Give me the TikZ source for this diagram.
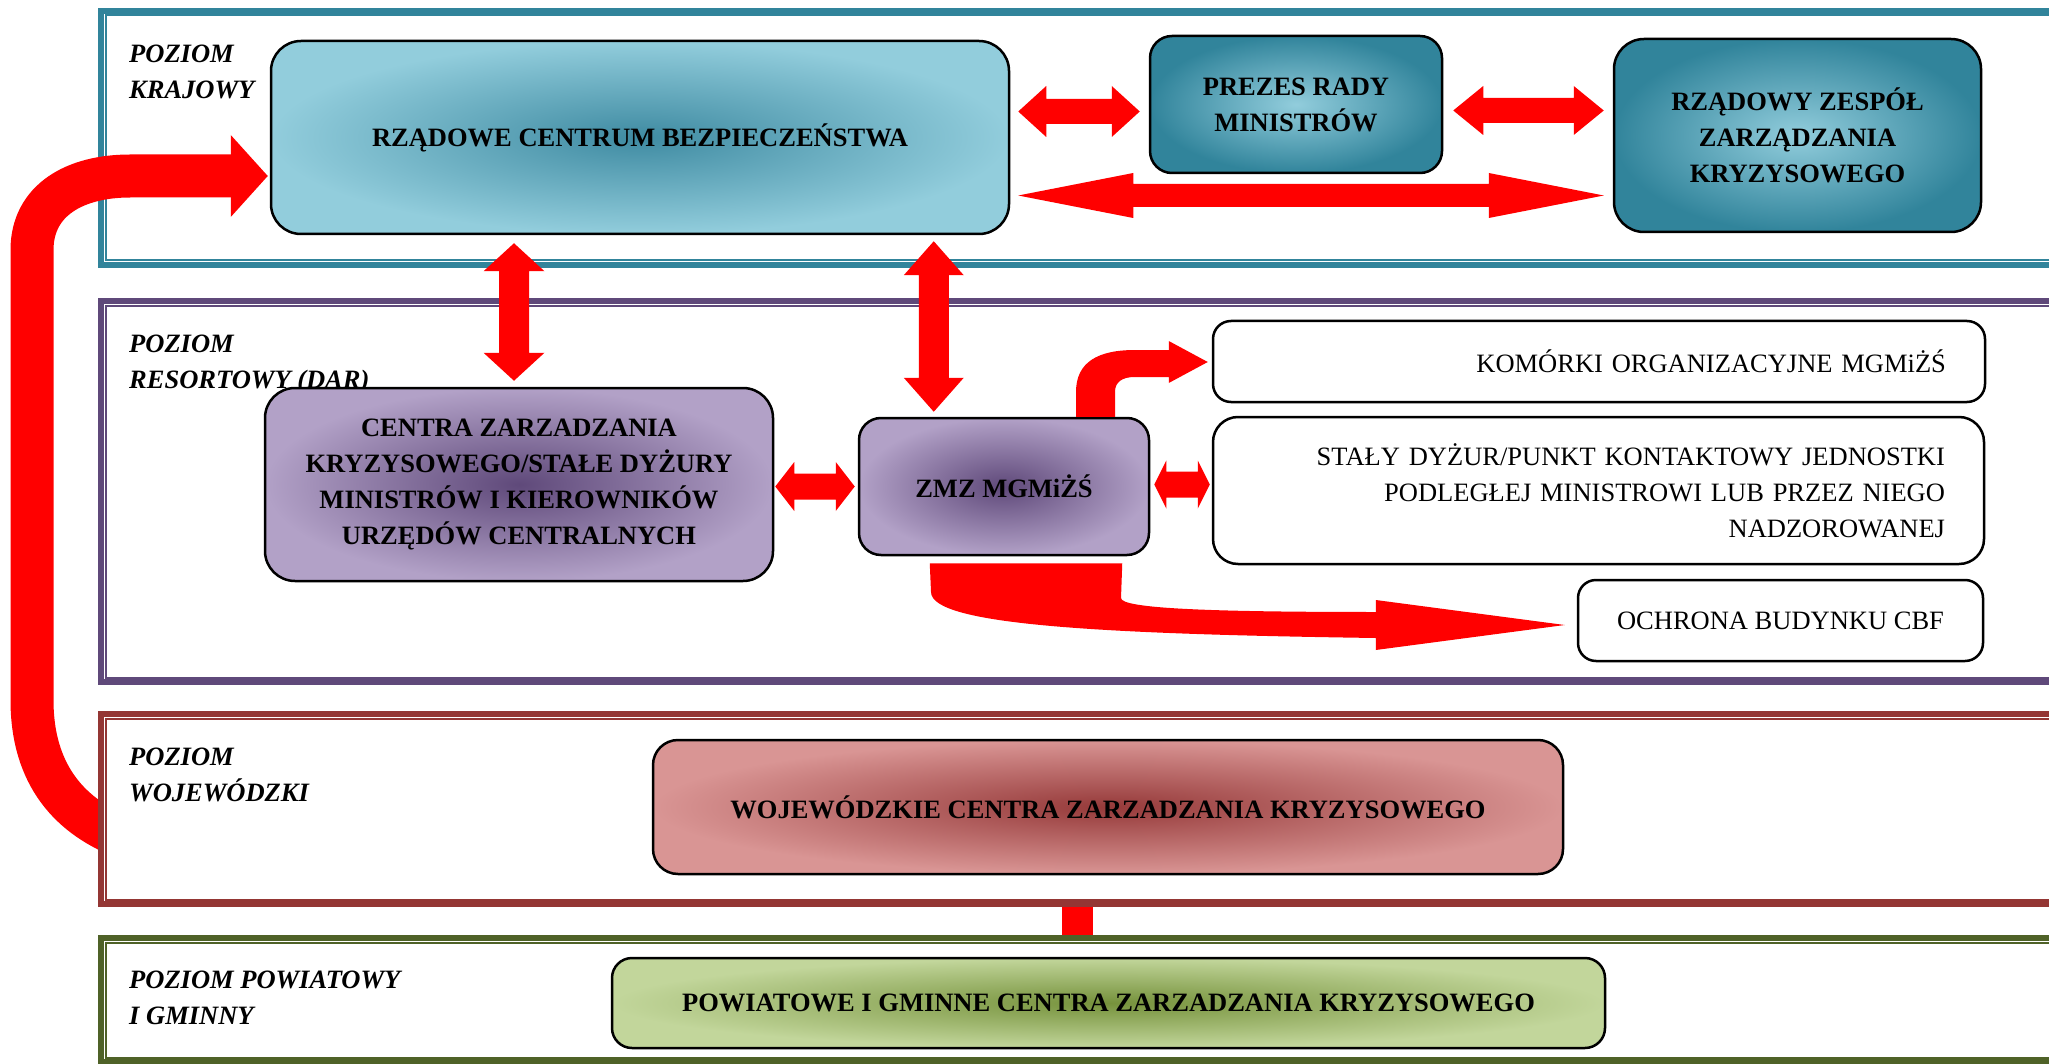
\documentclass[tikz,border=0pt]{standalone}
\usepackage{fontspec}
\setmainfont{Liberation Serif}
\usetikzlibrary{calc,positioning}
\pgfdeclarelayer{front}
\pgfsetlayers{main,front}

\definecolor{frkraj}{HTML}{31849B}
\definecolor{frres}{HTML}{5F497A}
\definecolor{frwoj}{HTML}{943634}
\definecolor{frpow}{HTML}{4F6228}
\definecolor{tealdark}{HTML}{31849B}
\definecolor{tealmid}{HTML}{3F8BA2}
\definecolor{teallight}{HTML}{92CDDC}
\definecolor{purpdark}{HTML}{5F497A}
\definecolor{purplight}{HTML}{B2A1C7}
\definecolor{reddark}{HTML}{963A3A}
\definecolor{redlight}{HTML}{D99594}
\definecolor{grndark}{HTML}{76923C}
\definecolor{grnlight}{HTML}{C2D69B}
\definecolor{arrowred}{RGB}{255,0,0}

\newcommand{\diagfont}{\fontsize{26.5}{36}\selectfont}
% double arrow between two named points: shaft, head half widths, head length
\newcommand{\dblarrow}[5]{%
  \path ($(#1)!#5pt!(#2)$) coordinate (ha) ($(#2)!#5pt!(#1)$) coordinate (hb);
  \fill[arrowred] (#1) -- ($(ha)!#4pt!90:(#2)$) -- ($(ha)!#3pt!90:(#2)$)
    -- ($(hb)!#3pt!-90:(#1)$) -- ($(hb)!#4pt!-90:(#1)$) -- (#2)
    -- ($(hb)!#4pt!90:(#1)$) -- ($(hb)!#3pt!90:(#1)$)
    -- ($(ha)!#3pt!-90:(#2)$) -- ($(ha)!#4pt!-90:(#2)$) -- cycle;}

\begin{document}
\begin{tikzpicture}[x=1pt,y=-1pt,
    levelframe/.style={draw=#1, line width=6pt, fill=white, minimum width=1999pt, inner sep=0pt},
    innerline/.style={draw=#1, line width=2pt},
    levellabel/.style={anchor=north west, inner sep=0pt, align=left, font=\diagfont\bfseries\itshape},
    shadedbox/.style={draw=black, line width=2.5pt, rounded corners=#1, inner sep=0pt, align=center, font=\diagfont\bfseries},
    shadedbox/.default=30pt,
    plainbox/.style={draw=black, line width=2.5pt, fill=white, rounded corners=#1, inner sep=0pt, align=center, font=\diagfont},
    plainbox/.default=18pt]
    \fill[white] (0,0) rectangle (2049,1064);
    \useasboundingbox (0,0) rectangle (2049,1064);

    % level frames
    \node[levelframe=frkraj, minimum height=254pt] (fkraj) at (1100.5,138) {};
    \node[levelframe=frres, minimum height=380.5pt] (fres) at (1100.5,491.75) {};
    \foreach \f/\c in {fkraj/frkraj, fres/frres}
        \draw[innerline=\c] ([shift={(7.5,7.5)}]\f.north west) rectangle ([shift={(-7.5,-7.5)}]\f.south east);

    \begin{pgfonlayer}{front}
        \node[levelframe=frwoj, minimum height=190pt] (fwoj) at (1100.5,809) {};
        \node[levelframe=frpow, minimum height=124pt] (fpow) at (1100.5,1000) {};
        \foreach \f/\c in {fwoj/frwoj, fpow/frpow}
            \draw[innerline=\c] ([shift={(7.5,7.5)}]\f.north west) rectangle ([shift={(-7.5,-7.5)}]\f.south east);
        \node[levellabel] (lwoj) at (129,748) {POZIOM\\WOJEWÓDZKI};
        \node[levellabel] (lpow) at (129,971) {POZIOM POWIATOWY\\I GMINNY};
        \node[shadedbox=25pt, inner color=reddark, outer color=redlight, minimum width=910pt, minimum height=134pt] (woj) at (1108,807) {WOJEWÓDZKIE CENTRA ZARZADZANIA KRYZYSOWEGO};
        \node[shadedbox=20pt, inner color=grndark, outer color=grnlight, minimum width=993pt, minimum height=90pt] (pow) at (1108.5,1003) {POWIATOWE I GMINNE CENTRA ZARZADZANIA KRYZYSOWEGO};
    \end{pgfonlayer}

    \node[levellabel] (lkraj) at (129,45) {POZIOM\\KRAJOWY};
    \node[levellabel] (lres) at (129,335) {POZIOM\\RESORTOWY (DAR)};

    % boxes
    \node[shadedbox, inner color=tealmid, outer color=teallight, minimum width=738pt, minimum height=193pt] (rcb) at (640,137.5) {RZĄDOWE CENTRUM BEZPIECZEŃSTWA};
    \node[shadedbox=22pt, inner color=teallight, outer color=tealdark, minimum width=292pt, minimum height=137pt] (prezes) at (1296,104.5) {PREZES RADY\\MINISTRÓW};
    \node[shadedbox, inner color=teallight, outer color=tealdark, minimum width=367pt, minimum height=193pt] (rzzk) at (1797.5,135.5) {RZĄDOWY ZESPÓŁ\\ZARZĄDZANIA\\KRYZYSOWEGO};
    \node[shadedbox, inner color=purpdark, outer color=purplight, minimum width=508pt, minimum height=193pt] (centra) at (519,484.5) {CENTRA ZARZADZANIA\\KRYZYSOWEGO/STAŁE DYŻURY\\MINISTRÓW I KIEROWNIKÓW\\URZĘDÓW CENTRALNYCH};
    \node[shadedbox=22pt, inner color=purpdark, outer color=purplight, minimum width=290pt, minimum height=137pt] (zmz) at (1004,486.5) {ZMZ MGMiŻŚ};
    \node[plainbox, minimum width=772pt, minimum height=81pt, text width=694pt, align=right] (komorki) at (1599,361.5) {KOMÓRKI ORGANIZACYJNE MGMiŻŚ};
    \node[plainbox=25pt, minimum width=771pt, minimum height=147pt, text width=693pt, align=right] (staly) at (1598.5,490.5) {STAŁY DYŻUR/PUNKT KONTAKTOWY JEDNOSTKI\\PODLEGŁEJ MINISTROWI LUB PRZEZ NIEGO\\NADZOROWANEJ};
    \node[plainbox, minimum width=405pt, minimum height=81pt] (ochrona) at (1780.5,620.5) {OCHRONA BUDYNKU CBF};

    % double arrows
    \coordinate (a1) at ($(rcb.east |- prezes.west)+(8,7)$);
    \coordinate (a2) at ($(prezes.west)+(-9,7)$);
    \dblarrow{a1}{a2}{12.5}{25.5}{28}
    \coordinate (b1) at ($(prezes.east)+(10,6)$);
    \coordinate (b2) at ($(rzzk.west |- prezes.east)+(-9,6)$);
    \dblarrow{b1}{b2}{12.5}{24.5}{30}
    \coordinate (c1) at ($(rcb.east |- rzzk.west)+(8,60)$);
    \coordinate (c2) at ($(rzzk.west)+(-9,60)$);
    \dblarrow{c1}{c2}{11.5}{22.5}{115}
    \coordinate (d1) at ($(centra.north |- rcb.south)+(-5,8)$);
    \coordinate (d2) at ($(centra.north)+(-5,-6)$);
    \dblarrow{d1}{d2}{15}{30.5}{28}
    \coordinate (e1) at ($(zmz.north west |- rcb.south)+(76,6)$);
    \coordinate (e2) at ($(zmz.north west)+(76,-5)$);
    \dblarrow{e1}{e2}{15}{30}{34}
    \coordinate (f1) at ($(centra.east)+(1,2)$);
    \coordinate (f2) at ($(zmz.west |- centra.east)+(-3,2)$);
    \dblarrow{f1}{f2}{13}{24.5}{19}
    \coordinate (g1) at ($(zmz.east)+(4,-2)$);
    \coordinate (g2) at ($(staly.west |- zmz.east)+(-2,-2)$);
    \dblarrow{g1}{g2}{13}{24}{12}

    % bent arrow up to the units
    \coordinate (ba) at ($(zmz.north)+(72,0)$);
    \coordinate (bb) at ($(zmz.north)+(111,0)$);
    \coordinate (bt) at ($(komorki.west)+(-4,0.5)$);
    \fill[arrowred] (ba) -- (1076,392) .. controls (1076,362) and (1098,350) .. (1135,350) -- ($(bt)+(-39,-12)$)
        -- ($(bt)+(-39,-21)$) -- (bt) -- ($(bt)+(-39,21)$) -- ($(bt)+(-39,15)$) -- (1135,377)
        .. controls (1122,377) and (1115,382) .. (1115,392) -- (bb) -- cycle;

    % wide arrow down to the building guard
    \coordinate (ca) at ($(zmz.south west)+(72,7)$);
    \coordinate (cb) at ($(zmz.south east)+(-28,7)$);
    \coordinate (ct) at ($(ochrona.west)+(-12,4.5)$);
    \fill[arrowred] (ca) -- (cb) -- (1121,598) .. controls (1121,608) and (1200,612) .. ($(ct)+(-189,-13)$)
        -- ($(ct)+(-189,-25)$) -- (ct) -- ($(ct)+(-189,25)$) -- ($(ct)+(-189,13)$)
        .. controls (1100,634) and (931,625) .. (931,592) -- cycle;

    % long arrow from the voivodeship level up to RCB
    \coordinate (wojin) at ($(fwoj.west)+(30,30)$);
    \coordinate (lt) at ($(rcb.west)+(-2,38.5)$);
    \draw[arrowred, line width=43pt] (wojin) .. controls (70,818) and (32,775) .. (32,700) -- (32,250)
        .. controls (32,200) and (75,176) .. (130,176) -- ($(lt)+(-36,0)$);
    \fill[arrowred] ($(lt)+(-37,-41)$) -- (lt) -- ($(lt)+(-37,41)$) -- cycle;

    % link between voivodeship and district levels
    \draw[arrowred, line width=31pt] ($(fwoj.south)+(-23,0)$) -- ($(fpow.north)+(-23,0)$);
\end{tikzpicture}
\end{document}
